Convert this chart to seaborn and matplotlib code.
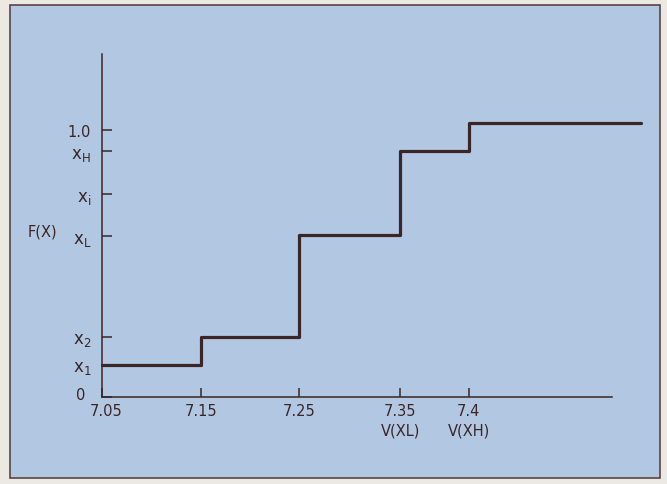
import numpy as np
import pandas as pd
import seaborn as sns
import matplotlib.pyplot as plt
from matplotlib.patches import Rectangle
from matplotlib.transforms import ScaledTranslation

# --- data ---
# x axis is schematic: positions of the tick marks (in units of one 0.1 step)
x_ticklabels = ['7.05', '7.15', '7.25', '7.35\nV(XL)', '7.4\nV(XH)']
x_tickpos = [0.0, 1.0, 1.98, 3.0, 3.69]
x_line_end = 5.42

# step levels of F(X) between consecutive x ticks, and after the last one
step_levels = [0.12, 0.225, 0.607, 0.921, 1.026]

y_ticklabels = ['0', '$x_1$', '$x_2$', '$x_L$', '$x_i$', '$x_H$', '1.0']
y_tickpos = [0.0, 0.12, 0.225, 0.603, 0.76, 0.921, 1.0]

# --- style ---
sns.set_style('ticks')
plt.rcParams['font.family'] = ['DejaVu Sans']
plt.rcParams['mathtext.default'] = 'regular'

ink = '#3a2626'
panel_blue = '#b2c7e2'
paper = '#ece9e2'

fig = plt.figure(figsize=(6.67, 4.85), dpi=100, facecolor=paper)

# blue panel with a thin dark frame, drawn on a background axes
bg = fig.add_axes([0, 0, 1, 1], zorder=0)
bg.set_axis_off()
bg.add_patch(Rectangle((10 / 667, 1 - 479 / 485), 650 / 667, 473 / 485,
                       transform=bg.transAxes, facecolor=panel_blue,
                       edgecolor='#5a4444', linewidth=1.2))

ax = fig.add_axes([102 / 667, 87 / 485, 510 / 667, 343 / 485], zorder=1)
ax.set_facecolor('none')

steps = pd.DataFrame({
    'x': x_tickpos + [x_line_end],
    'F': step_levels + [step_levels[-1]],
})
sns.lineplot(data=steps, x='x', y='F', drawstyle='steps-post', color=ink,
             linewidth=2.3, ax=ax, clip_on=False)

ax.set_xlim(0, 5.13)
ax.set_ylim(0, 1.285)

sns.despine(ax=ax)
for side in ['left', 'bottom']:
    ax.spines[side].set_color(ink)
    ax.spines[side].set_linewidth(1.1)

ax.set_xticks(x_tickpos)
ax.set_xticklabels(x_ticklabels, linespacing=1.4)
ax.set_yticks(y_tickpos)
ax.set_yticklabels(y_ticklabels)
ax.tick_params(axis='both', direction='in', length=7, width=1.1, color=ink,
               labelcolor=ink, labelsize=10.5)
ax.tick_params(axis='x', pad=4, length=6.5)
ax.tick_params(axis='y', pad=8)
for lab in ax.get_yticklabels():
    if lab.get_text().startswith('$'):
        lab.set_fontsize(12)

# nudge the "0" label and the first x label apart, as in the reference
ylabs = ax.get_yticklabels()
ylabs[0].set_transform(ylabs[0].get_transform()
                       + ScaledTranslation(-4 / 72, 3 / 72, fig.dpi_scale_trans))
xlabs = ax.get_xticklabels()
xlabs[0].set_transform(xlabs[0].get_transform()
                       + ScaledTranslation(3 / 72, 0, fig.dpi_scale_trans))

ax.set_xlabel('')
ax.set_ylabel('F(X)', rotation=0, color=ink, fontsize=10.5, va='center')
ax.yaxis.set_label_coords(-0.116, 0.484)

fig.savefig('out.png', dpi=100, facecolor=paper)
